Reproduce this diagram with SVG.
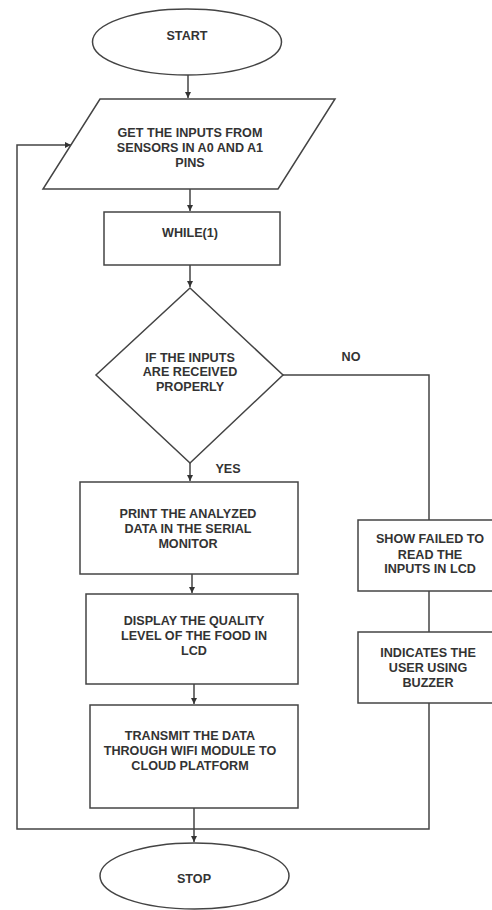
<svg xmlns="http://www.w3.org/2000/svg" width="492" height="910" viewBox="0 0 492 910">
<style>
.shape{fill:#fff;stroke:#444;stroke-width:1.5}
.line{fill:none;stroke:#444;stroke-width:1.5}
.t{font-family:"Liberation Sans",Arial,sans-serif;font-weight:bold;font-size:12.6px;fill:#333;text-anchor:middle;dominant-baseline:central}
</style>
<defs>
<marker id="ah" markerUnits="userSpaceOnUse" markerWidth="7" markerHeight="7" refX="6" refY="3.5" orient="auto">
<path d="M0,0.5 L6,3.5 L0,6.5 Z" fill="#333"/>
</marker>
</defs>
<rect width="492" height="910" fill="#fff"/>
<g id="connectors">
<line class="line" x1="188" y1="75" x2="188" y2="98" marker-end="url(#ah)"/>
<line class="line" x1="190" y1="189" x2="190" y2="211" marker-end="url(#ah)"/>
<line class="line" x1="190" y1="265" x2="190" y2="287" marker-end="url(#ah)"/>
<line class="line" x1="190" y1="463" x2="190" y2="481" marker-end="url(#ah)"/>
<line class="line" x1="192" y1="574" x2="192" y2="593" marker-end="url(#ah)"/>
<line class="line" x1="194" y1="684" x2="194" y2="704" marker-end="url(#ah)"/>
<line class="line" x1="194" y1="808" x2="194" y2="842" marker-end="url(#ah)"/>
<polyline class="line" points="283,375 429,375 429,520"/>
<line class="line" x1="429" y1="591" x2="429" y2="632"/>
<polyline class="line" points="429,703 429,829 17,829 17,145 71,145" marker-end="url(#ah)"/>
<text class="t" x="351" y="357">NO</text>
<text class="t" x="228" y="469">YES</text>
</g>
<g id="start">
<ellipse class="shape" cx="187" cy="42" rx="94.5" ry="33"/>
<text class="t" x="187" y="36">START</text>
</g>
<g id="inputs">
<polygon class="shape" points="100,99 335,99 278,189 43,189"/>
<text class="t" x="190" y="133">GET THE INPUTS FROM</text>
<text class="t" x="190" y="148">SENSORS IN A0 AND A1</text>
<text class="t" x="190" y="163">PINS</text>
</g>
<g id="while">
<rect class="shape" x="104" y="212" width="176" height="53"/>
<text class="t" x="190" y="233">WHILE(1)</text>
</g>
<g id="decision">
<polygon class="shape" points="190,288 283,375 190,463 96,375"/>
<text class="t" x="190" y="358">IF THE INPUTS</text>
<text class="t" x="190" y="372">ARE RECEIVED</text>
<text class="t" x="190" y="387">PROPERLY</text>
</g>
<g id="print">
<rect class="shape" x="80" y="482" width="218" height="92"/>
<text class="t" x="188" y="514">PRINT THE ANALYZED</text>
<text class="t" x="188" y="529">DATA IN THE SERIAL</text>
<text class="t" x="188" y="544">MONITOR</text>
</g>
<g id="display">
<rect class="shape" x="86" y="594" width="212" height="90"/>
<text class="t" x="194" y="621">DISPLAY THE QUALITY</text>
<text class="t" x="194" y="636">LEVEL OF THE FOOD IN</text>
<text class="t" x="194" y="651">LCD</text>
</g>
<g id="transmit">
<rect class="shape" x="90" y="705" width="208" height="103"/>
<text class="t" x="190" y="736">TRANSMIT THE DATA</text>
<text class="t" x="190" y="751">THROUGH WIFI MODULE TO</text>
<text class="t" x="190" y="766">CLOUD PLATFORM</text>
</g>
<g id="show">
<rect class="shape" x="358" y="520" width="145" height="71"/>
<text class="t" x="430" y="539">SHOW FAILED TO</text>
<text class="t" x="430" y="555">READ THE</text>
<text class="t" x="430" y="569">INPUTS IN LCD</text>
</g>
<g id="indicates">
<rect class="shape" x="358" y="632" width="145" height="71"/>
<text class="t" x="428" y="653">INDICATES THE</text>
<text class="t" x="428" y="668">USER USING</text>
<text class="t" x="428" y="683">BUZZER</text>
</g>
<g id="stop">
<ellipse class="shape" cx="194.5" cy="876" rx="94.5" ry="33"/>
<text class="t" x="194" y="879">STOP</text>
</g>
</svg>
